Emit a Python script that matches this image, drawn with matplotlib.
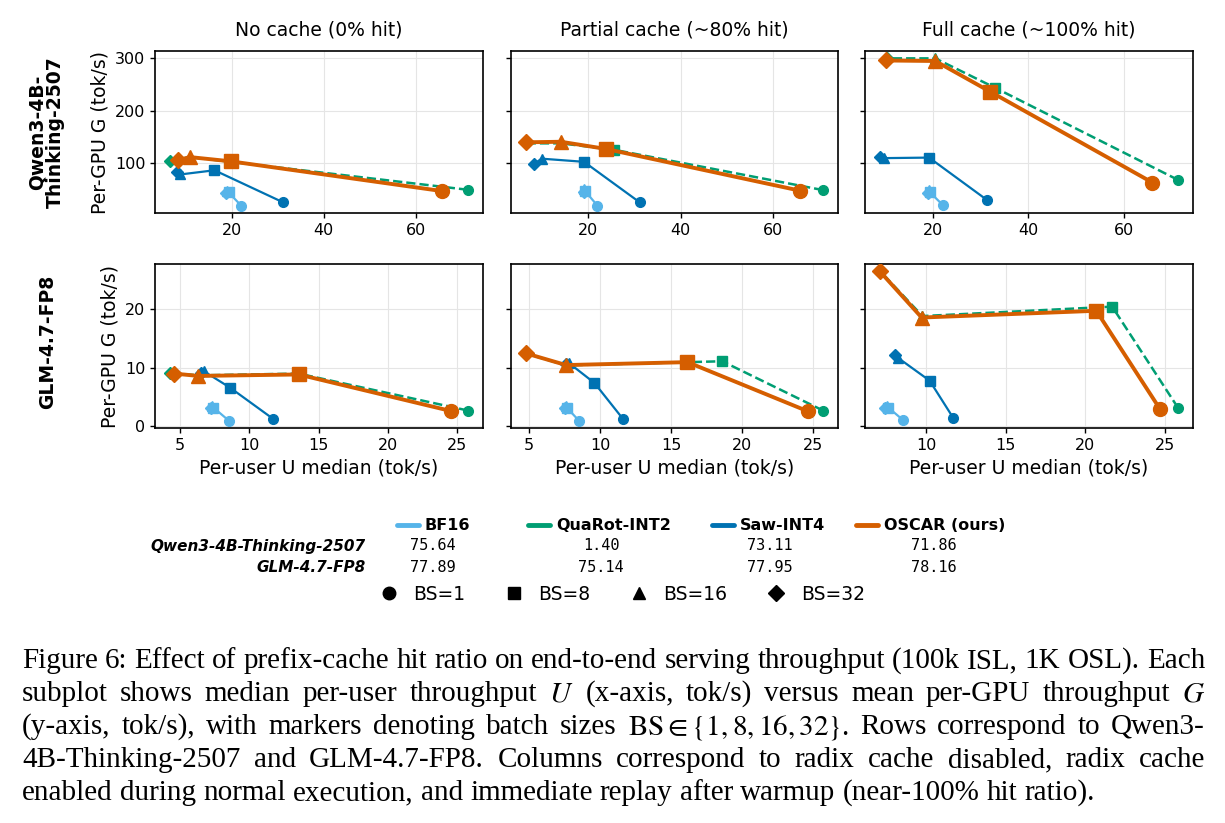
import matplotlib
matplotlib.use('Agg')
import matplotlib.pyplot as plt
from matplotlib.lines import Line2D

plt.rcParams['font.family'] = 'DejaVu Sans'
plt.rcParams['mathtext.fontset'] = 'stix'

# ---- data (ordered by batch size 1, 8, 16, 32) ----
bs = [1, 8, 16, 32]
bs_markers = ['o', 's', '^', 'D']
methods = ['BF16', 'QuaRot-INT2', 'Saw-INT4', 'OSCAR (ours)']
colors = ['#56B4E9', '#009E73', '#0072B2', '#D55E00']

col_titles = ['No cache (0% hit)', 'Partial cache (~80% hit)', 'Full cache (~100% hit)']
row_labels = ['Qwen3-4B-\nThinking-2507', 'GLM-4.7-FP8']

# Qwen3-4B-Thinking-2507
u_qwen_none = [[22.0, 19.3, 19.0, 18.8], [71.4, 19.7, 10.8, 6.5],
               [31.2, 16.2, 8.7, 8.0], [65.8, 19.7, 10.8, 8.3]]
g_qwen_none = [[20, 45, 48, 44], [50, 103, 112, 104],
               [26, 87, 79, 84], [47.5, 104, 112, 106]]
u_qwen_part = [[22.0, 19.4, 19.2, 19.0], [70.9, 25.5, 14.1, 6.5],
               [31.2, 19.1, 9.9, 8.3], [65.8, 23.8, 14.1, 6.5]]
g_qwen_part = [[20, 47, 51, 45], [49.4, 126, 138, 138],
               [26, 103, 109, 99], [48.5, 127.5, 141, 140]]
u_qwen_full = [[22.1, 19.3, 19.1, 18.9], [71.4, 33.1, 20.5, 10.4],
               [31.3, 19.2, 9.7, 8.9], [66.0, 32.0, 20.5, 10.2]]
g_qwen_full = [[21, 46, 49, 44], [68.7, 243, 299, 299],
               [31, 111, 110, 112], [63.8, 236, 294, 295]]

# GLM-4.7-FP8
u_glm_none = [[8.5, 7.4, 7.3, 7.2], [25.8, 13.55, 6.3, 4.25],
              [11.7, 8.6, 6.7, 6.5], [24.6, 13.55, 6.3, 4.57]]
g_glm_none = [[1.0, 3.2, 3.4, 3.1], [2.7, 9.0, 8.7, 9.1],
              [1.3, 6.6, 9.4, 9.1], [2.6, 8.85, 8.6, 9.0]]
u_glm_part = [[8.5, 7.65, 7.6, 7.5], [25.7, 18.6, 7.6, 4.8],
              [11.6, 9.6, 7.8, 7.6], [24.6, 16.15, 7.6, 4.77]]
g_glm_part = [[1.0, 3.2, 3.4, 3.1], [2.7, 11.1, 10.4, 12.4],
              [1.3, 7.4, 10.8, 10.6], [2.6, 10.95, 10.45, 12.45]]
u_glm_full = [[8.5, 7.6, 7.5, 7.4], [25.85, 21.7, 9.75, 7.1],
              [11.7, 10.2, 8.2, 8.0], [24.7, 20.7, 9.7, 7.07]]
g_glm_full = [[1.15, 3.2, 3.4, 3.1], [3.15, 20.4, 18.8, 26.4],
              [1.4, 7.8, 11.7, 12.1], [3.0, 19.7, 18.55, 26.4]]

# accuracy table shown under the legend
acc_qwen = ['75.64', '1.40', '73.11', '71.86']
acc_glm = ['77.89', '75.14', '77.95', '78.16']

panels = [[(u_qwen_none, g_qwen_none), (u_qwen_part, g_qwen_part), (u_qwen_full, g_qwen_full)],
          [(u_glm_none, g_glm_none), (u_glm_part, g_glm_part), (u_glm_full, g_glm_full)]]

# ---- styling per method ----
line_w = [1.6, 1.8, 1.6, 2.8]
line_s = ['-', '--', '-', '-']
mk_size = [7, 7, 7, 10]
z = [2, 3, 4, 5]

fig = plt.figure(figsize=(12.25, 8.23), dpi=100)
W, H = 1225, 823

def px_rect(l, t, r, b):
    return [l / W, 1 - b / H, (r - l) / W, (b - t) / H]

lefts = [155, 511, 865]
rights = [483, 838, 1193]
tops = [51, 264]
bottoms = [213, 428]

axes = []
for i in range(2):
    row = []
    for j in range(3):
        share = row[0] if j > 0 else None
        ax = fig.add_axes(px_rect(lefts[j], tops[i], rights[j], bottoms[i]), sharey=share)
        row.append(ax)
    axes.append(row)

for i in range(2):
    for j in range(3):
        ax = axes[i][j]
        us, gs = panels[i][j]
        for k in range(4):
            ax.plot(us[k], gs[k], color=colors[k], lw=line_w[k], ls=line_s[k], zorder=z[k])
            for b in range(4):
                ms = mk_size[k] * (0.85 if bs_markers[b] == 'D' else 1.0)
                ax.plot(us[k][b], gs[k][b], marker=bs_markers[b], color=colors[k],
                        ms=ms, ls='none', zorder=z[k])

for i in range(2):
    for j in range(3):
        ax = axes[i][j]
        xl, yl = ax.get_xlim(), ax.get_ylim()
        ax.grid(True, color='#e5e5e5', lw=0.8)
        ax.set_axisbelow(True)
        ax.tick_params(labelsize=11.5, length=3.5, width=1)
        for s in ax.spines.values():
            s.set_linewidth(1.2)
        if i == 0:
            ax.set_title(col_titles[j], fontsize=13.5, pad=11)
            ax.set_xticks([20, 40, 60])
            ax.set_yticks([100, 200, 300])
        else:
            ax.set_xticks([5, 10, 15, 20, 25])
            ax.set_yticks([0, 10, 20])
            ax.set_xlabel('Per-user U median (tok/s)', fontsize=13.5)
        ax.set_xlim(xl)
        ax.set_ylim(yl)
        if j == 0:
            ax.set_ylabel('Per-GPU G (tok/s)', fontsize=13.5)
        else:
            ax.tick_params(labelleft=False)

# row labels
fig.text(46 / W, 1 - 132 / H, row_labels[0], rotation=90, fontsize=13.5, fontweight='bold',
         ha='center', va='center', multialignment='center', linespacing=0.95)
fig.text(48 / W, 1 - 342 / H, row_labels[1], rotation=90, fontsize=13.5, fontweight='bold',
         ha='center', va='center')

# ---- legend table ----
head_y = 1 - 525 / H
row1_y = 1 - 546 / H
row2_y = 1 - 567 / H
text_left = [425, 556, 740, 884]
val_center = [433, 601, 770, 934]
for k in range(4):
    x0 = text_left[k]
    fig.add_artist(Line2D([(x0 - 28) / W, (x0 - 6) / W], [head_y, head_y],
                          transform=fig.transFigure, color=colors[k], lw=3.5,
                          solid_capstyle='round'))
    fig.text(x0 / W, head_y, methods[k], fontsize=11.5, fontweight='bold',
             ha='left', va='center')
    fig.text(val_center[k] / W, row1_y, acc_qwen[k], fontsize=11, family='DejaVu Sans Mono',
             ha='center', va='center')
    fig.text(val_center[k] / W, row2_y, acc_glm[k], fontsize=11, family='DejaVu Sans Mono',
             ha='center', va='center')
fig.text(366 / W, row1_y, 'Qwen3-4B-Thinking-2507', fontsize=11, fontweight='bold',
         style='italic', ha='right', va='center')
fig.text(366 / W, row2_y, 'GLM-4.7-FP8', fontsize=11, fontweight='bold',
         style='italic', ha='right', va='center')

bs_handles = [Line2D([], [], marker=m, color='black', ls='none', ms=9 if m != 'D' else 8)
              for m in bs_markers]
fig.legend(bs_handles, [f'BS={b}' for b in bs], loc='center', ncol=4, frameon=False,
           bbox_to_anchor=(622 / W, 1 - 594 / H), fontsize=13.5, handlelength=1,
           handletextpad=0.8, columnspacing=2.1, borderpad=0, borderaxespad=0)

# ---- caption (justified) ----
caption = [
    "Figure 6: Effect of prefix-cache hit ratio on end-to-end serving throughput (100k ISL, 1K OSL). Each",
    "subplot shows median per-user throughput $U$ (x-axis, tok/s) versus mean per-GPU throughput $G$",
    r"(y-axis, tok/s), with markers denoting batch sizes $\mathrm{BS}\in\{1,8,16,32\}$. Rows correspond to Qwen3-",
    "4B-Thinking-2507 and GLM-4.7-FP8. Columns correspond to radix cache disabled, radix cache",
    "enabled during normal execution, and immediate replay after warmup (near-100% hit ratio).",
]
cap_left, cap_right = 22, 1205
cap_font = dict(fontsize=21, family='Liberation Serif')
renderer = fig.canvas.get_renderer()

def width_px(s):
    t = fig.text(0, 0, s, **cap_font)
    w = t.get_window_extent(renderer).width
    t.remove()
    return w

space_w = width_px('a b') - width_px('ab')
for n, line in enumerate(caption):
    y = 1 - (668 + 33 * n) / H
    words = line.split(' ')
    widths = [width_px(w) for w in words]
    if n < len(caption) - 1:
        gap = (cap_right - cap_left - sum(widths)) / (len(words) - 1)
    else:
        gap = space_w
    x = cap_left
    for w, wd in zip(words, widths):
        fig.text(x / W, y, w, ha='left', va='baseline', **cap_font)
        x += wd + gap

fig.savefig('out.png', dpi=100)
